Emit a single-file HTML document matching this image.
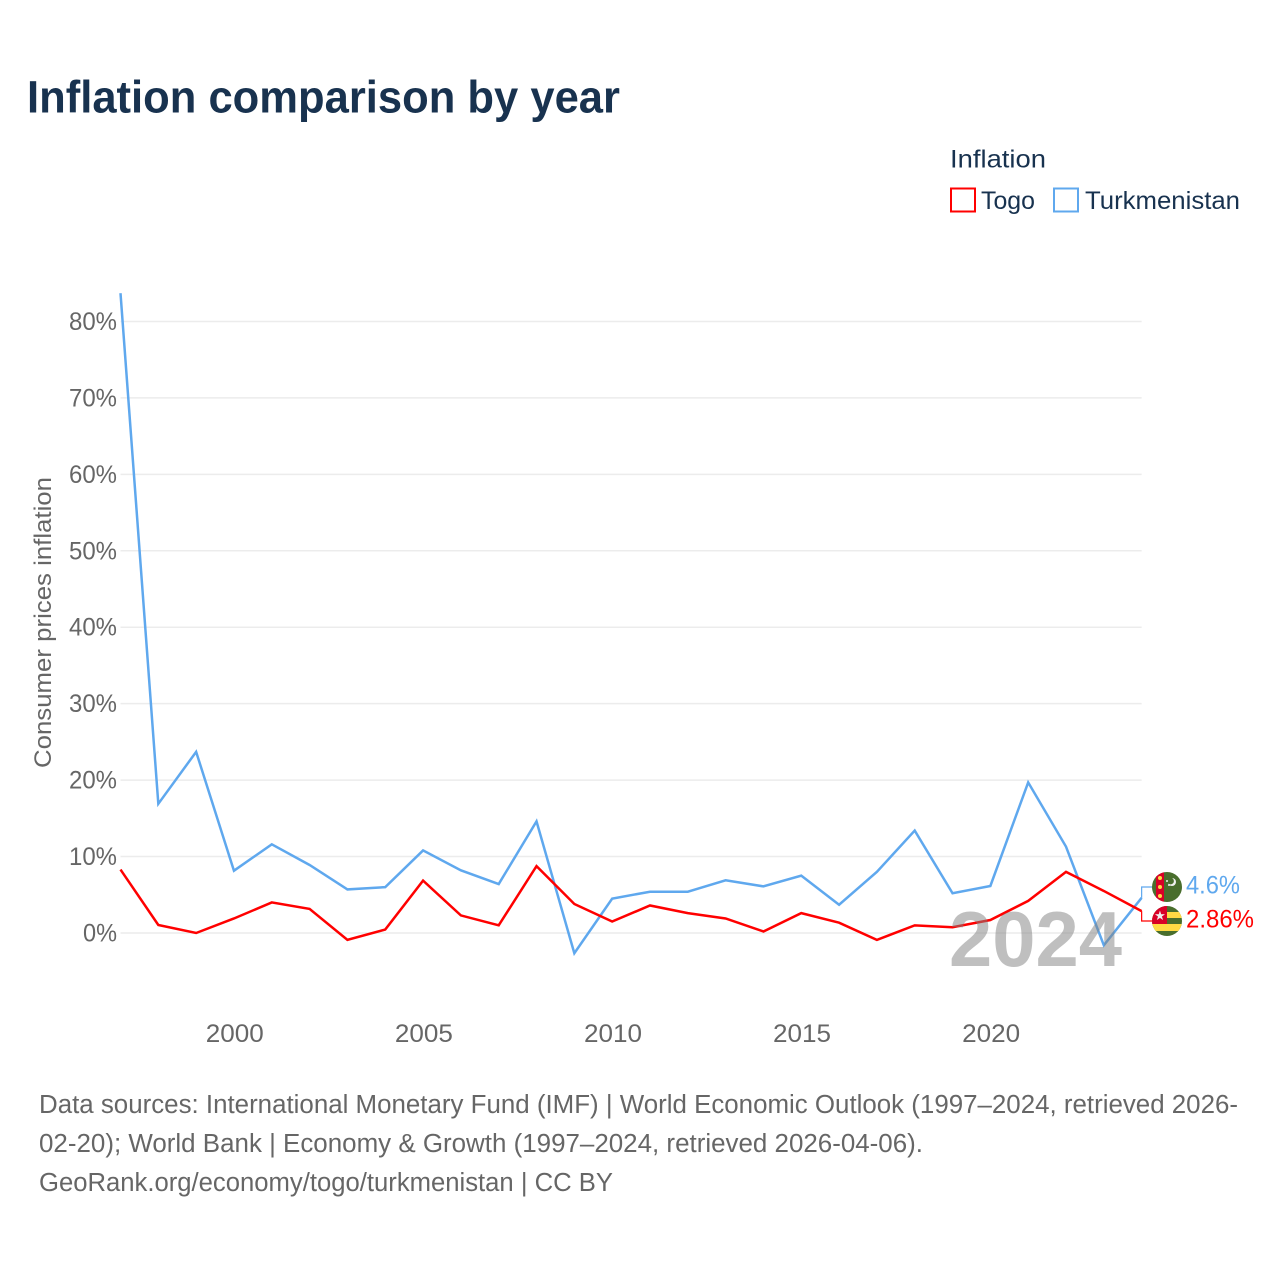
<!DOCTYPE html>
<html lang="en">
<head>
<meta charset="utf-8">
<title>Inflation comparison by year</title>
<style>
html,body{margin:0;padding:0;background:#fff;}
svg{display:block;}
text{font-family:"Liberation Sans",sans-serif;}
</style>
</head>
<body>
<svg id="chart" width="1280" height="1280" viewBox="0 0 1280 1280" xmlns="http://www.w3.org/2000/svg">
  <defs>
    <clipPath id="flag-clip-tm"><circle cx="1167" cy="887" r="15"/></clipPath>
    <clipPath id="flag-clip-tg"><circle cx="1167" cy="921" r="15"/></clipPath>
  </defs>
  <rect width="1280" height="1280" fill="#fff"/>
  <text x="27" y="112.5" font-size="45" font-weight="700" fill="#18324f" textLength="593" lengthAdjust="spacingAndGlyphs">Inflation comparison by year</text>

  <g>
    <text x="950" y="167.5" font-size="25" fill="#18324f" textLength="96" lengthAdjust="spacingAndGlyphs">Inflation</text>
    <rect x="951" y="188.5" width="24" height="23" fill="none" stroke="#ff0000" stroke-width="2"/>
    <text x="981" y="209" font-size="25" fill="#18324f" textLength="54" lengthAdjust="spacingAndGlyphs">Togo</text>
    <rect x="1054" y="188.5" width="24" height="23" fill="none" stroke="#5fa8ee" stroke-width="2"/>
    <text x="1085" y="209" font-size="25" fill="#18324f" textLength="155" lengthAdjust="spacingAndGlyphs">Turkmenistan</text>
  </g>

  <text transform="translate(51,768) rotate(-90)" font-size="24" fill="#666" textLength="291" lengthAdjust="spacingAndGlyphs">Consumer prices inflation</text>

  <g id="grid"></g>
  <g id="y-ticks"></g>
  <g id="x-ticks"></g>
  <g id="series"></g>

  <text x="949" y="966" font-size="78" font-weight="700" fill="#808080" fill-opacity="0.5" textLength="173" lengthAdjust="spacingAndGlyphs">2024</text>

  <g id="end-connectors"></g>

  <g clip-path="url(#flag-clip-tm)">
    <rect x="1152" y="872" width="30" height="30" fill="#496e2d"/>
    <rect x="1156" y="872" width="8" height="30" fill="#d80027"/>
    <circle cx="1160" cy="878" r="2" fill="#ffda44"/>
    <circle cx="1160" cy="887" r="2" fill="#ffda44"/>
    <circle cx="1160" cy="896" r="2" fill="#ffda44"/>
    <circle cx="1172" cy="882" r="4" fill="#f0f0f0"/>
    <circle cx="1170.5" cy="881" r="3.4" fill="#496e2d"/>
    <circle cx="1167" cy="881" r="1" fill="#f0f0f0"/>
    <circle cx="1169" cy="885" r="1" fill="#f0f0f0"/>
  </g>
  <g clip-path="url(#flag-clip-tg)">
    <rect x="1152" y="906" width="30" height="30" fill="#496e2d"/>
    <rect x="1152" y="912" width="30" height="6" fill="#ffda44"/>
    <rect x="1152" y="924" width="30" height="7" fill="#ffda44"/>
    <rect x="1152" y="906" width="15" height="18" fill="#d80027"/>
    <text x="1160" y="920" font-size="13" fill="#f0f0f0" text-anchor="middle">★</text>
  </g>

  <text id="value-turkmenistan" x="1186" y="893.5" font-size="25" fill="#5fa8ee" textLength="54" lengthAdjust="spacingAndGlyphs"></text>
  <text id="value-togo" x="1186" y="927.5" font-size="25" fill="#ff0000" textLength="68" lengthAdjust="spacingAndGlyphs"></text>

  <g font-size="25.5" fill="#666">
    <text x="39" y="1113" textLength="1199" lengthAdjust="spacingAndGlyphs">Data sources: International Monetary Fund (IMF) | World Economic Outlook (1997–2024, retrieved 2026-</text>
    <text x="39" y="1152" textLength="884" lengthAdjust="spacingAndGlyphs">02-20); World Bank | Economy &amp; Growth (1997–2024, retrieved 2026-04-06).</text>
    <text x="39" y="1191" textLength="574" lengthAdjust="spacingAndGlyphs">GeoRank.org/economy/togo/turkmenistan | CC BY</text>
  </g>
</svg>
<script>
const years = [1997,1998,1999,2000,2001,2002,2003,2004,2005,2006,2007,2008,2009,2010,2011,2012,2013,2014,2015,2016,2017,2018,2019,2020,2021,2022,2023,2024];
const togoValues = [8.3,1.05,0,1.9,4.0,3.15,-0.9,0.45,6.85,2.3,1.0,8.75,3.8,1.5,3.6,2.6,1.9,0.2,2.6,1.35,-0.9,1.0,0.75,1.7,4.2,8.0,5.5,2.86];
const turkmenistanValues = [83.7,16.9,23.7,8.15,11.6,8.9,5.7,6.0,10.8,8.2,6.4,14.6,-2.65,4.5,5.4,5.4,6.9,6.1,7.5,3.7,8.0,13.4,5.2,6.15,19.7,11.3,-1.6,4.6];
const yTickValues = [0,10,20,30,40,50,60,70,80];
const xTickValues = [2000,2005,2010,2015,2020];

const NS = 'http://www.w3.org/2000/svg';
const xScale = function (year) { return 120.5 + (year - 1997) * 37.82; };
const yScale = function (value) { return 933 - value * 7.644; };
const grid = document.getElementById('grid');
const yTicks = document.getElementById('y-ticks');
const xTicks = document.getElementById('x-ticks');
const series = document.getElementById('series');
const connectors = document.getElementById('end-connectors');

yTickValues.forEach(function (v) {
  const line = document.createElementNS(NS, 'line');
  
  
  line.setAttribute('x1', xScale(1997));
  line.setAttribute('x2', xScale(2024));
  line.setAttribute('y1', yScale(v));
  line.setAttribute('y2', yScale(v));
  line.setAttribute('stroke', '#ececec');
  line.setAttribute('stroke-width', '1.5');
  grid.appendChild(line);
  const label = document.createElementNS(NS, 'text');
  
  
  label.setAttribute('x', 117);
  label.setAttribute('y', yScale(v) + 8.5);
  label.setAttribute('text-anchor', 'end');
  label.setAttribute('font-size', '25');
  label.setAttribute('fill', '#666');
  label.setAttribute('textLength', String(v).length > 1 ? '48' : '34');
  label.setAttribute('lengthAdjust', 'spacingAndGlyphs');
  label.textContent = v + '%';
  yTicks.appendChild(label);
});

xTickValues.forEach(function (y) {
  const label = document.createElementNS(NS, 'text');
  
  
  label.setAttribute('x', xScale(y) + 0.8);
  label.setAttribute('y', 1042);
  label.setAttribute('text-anchor', 'middle');
  label.setAttribute('font-size', '25');
  label.setAttribute('fill', '#666');
  label.setAttribute('textLength', '58');
  label.setAttribute('lengthAdjust', 'spacingAndGlyphs');
  label.textContent = y;
  xTicks.appendChild(label);
});

function drawLine(values, color, name) {
  const path = document.createElementNS(NS, 'polyline');
  
  
  path.setAttribute('points', values.map(function (v, i) { return xScale(years[i]) + ',' + yScale(v); }).join(' '));
  path.setAttribute('fill', 'none');
  path.setAttribute('stroke', color);
  path.setAttribute('stroke-width', '2.5');
  path.setAttribute('stroke-linejoin', 'miter');
  series.appendChild(path);
}
drawLine(turkmenistanValues, '#5fa8ee', 'line-turkmenistan');
drawLine(togoValues, '#ff0000', 'line-togo');

function drawConnector(values, targetY, color, name) {
  const lastX = xScale(years[years.length - 1]);
  const lastY = yScale(values[values.length - 1]);
  const c = document.createElementNS(NS, 'polyline');
  
  
  c.setAttribute('points', lastX + ',' + lastY + ' ' + lastX + ',' + targetY + ' 1152,' + targetY);
  c.setAttribute('fill', 'none');
  c.setAttribute('stroke', color);
  c.setAttribute('stroke-width', '1.2');
  connectors.appendChild(c);
}
drawConnector(turkmenistanValues, 887, '#5fa8ee', 'connector-turkmenistan');
drawConnector(togoValues, 921, '#ff0000', 'connector-togo');

document.getElementById('value-turkmenistan').textContent = turkmenistanValues[turkmenistanValues.length - 1] + '%';
document.getElementById('value-togo').textContent = togoValues[togoValues.length - 1] + '%';
</script>
</body>
</html>
